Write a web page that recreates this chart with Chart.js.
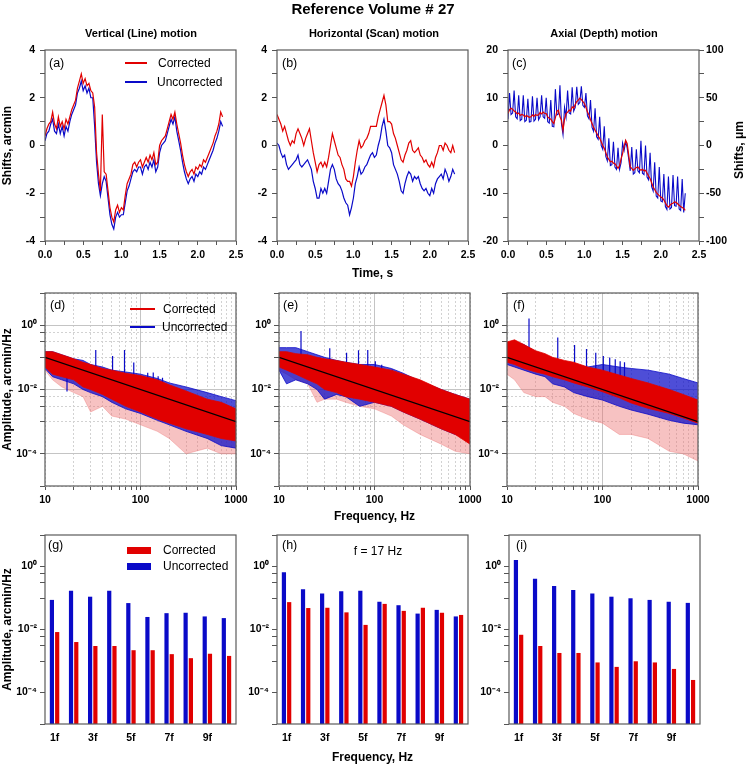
<!DOCTYPE html>
<html>
<head>
<meta charset="utf-8">
<title>Reference Volume # 27</title>
<script src="https://cdn.jsdelivr.net/npm/chart.js@4.4.1/dist/chart.umd.min.js"></script>
<style>
  html, body { margin: 0; padding: 0; background: #fff; }
  body { position: relative; width: 746px; height: 766px; overflow: hidden;
         font-family: "Liberation Sans", Arial, sans-serif; color: #000; }
  canvas { position: absolute; z-index: 1; }
  .txt { position: absolute; white-space: nowrap; line-height: 1; transform: translateY(-50%); z-index: 5; }
  .ctr { transform: translate(-50%, -50%); }
  .bold { font-weight: bold; }
  .sw { position: absolute; z-index: 5; }
</style>
</head>
<body>
<div class="txt ctr bold" style="left:373px;top:8px;font-size:15px">Reference Volume # 27</div>
<div class="txt ctr bold" style="left:141px;top:33px;font-size:11px">Vertical (Line) motion</div>
<div class="txt ctr bold" style="left:374px;top:33px;font-size:11px">Horizontal (Scan) motion</div>
<div class="txt ctr bold" style="left:604px;top:33px;font-size:11px">Axial (Depth) motion</div>
<div class="txt ctr bold" style="left:739px;top:150px;font-size:12px;transform:translate(-50%,-50%) rotate(-90deg)">Shifts, μm</div>

<div class="txt" style="left:49px;top:63px;font-size:12.5px">(a)</div>
<div class="txt" style="left:282px;top:63px;font-size:12.5px">(b)</div>
<div class="txt" style="left:512px;top:63px;font-size:12.5px">(c)</div>
<div class="txt" style="left:50px;top:305px;font-size:12.5px">(d)</div>
<div class="txt" style="left:283px;top:305px;font-size:12.5px">(e)</div>
<div class="txt" style="left:513px;top:305px;font-size:12.5px">(f)</div>
<div class="txt" style="left:48px;top:545px;font-size:12.5px">(g)</div>
<div class="txt" style="left:282px;top:545px;font-size:12.5px">(h)</div>
<div class="txt" style="left:516px;top:545px;font-size:12.5px">(i)</div>
<div class="txt ctr" style="left:378px;top:551px;font-size:12px">f = 17 Hz</div>

<div class="sw" style="left:125px;top:62px;width:22px;height:1.5px;background:rgb(225,0,0)"></div>
<div class="txt" style="left:158px;top:63px;font-size:12px">Corrected</div>
<div class="sw" style="left:125px;top:81px;width:22px;height:1.5px;background:rgb(10,10,200)"></div>
<div class="txt" style="left:157px;top:82px;font-size:12px">Uncorrected</div>

<div class="sw" style="left:130px;top:308px;width:25px;height:1.5px;background:rgb(225,0,0)"></div>
<div class="txt" style="left:163px;top:309px;font-size:12px">Corrected</div>
<div class="sw" style="left:130px;top:326px;width:25px;height:1.5px;background:rgb(10,10,200)"></div>
<div class="txt" style="left:162px;top:327px;font-size:12px">Uncorrected</div>

<div class="sw" style="left:127px;top:547px;width:24px;height:7px;background:rgb(225,0,0)"></div>
<div class="txt" style="left:163px;top:550px;font-size:12px">Corrected</div>
<div class="sw" style="left:127px;top:563px;width:24px;height:7px;background:rgb(10,10,200)"></div>
<div class="txt" style="left:163px;top:566px;font-size:12px">Uncorrected</div>

<script>
// ---- time series (shifts), arcmin ----
const timeStepAB = 0.025; // s, panels (a) and (b)
const timeStepC = 0.02;   // s, panel (c)

const vertCorr = [
  0.4, 0.7, 0.9, 1.0, 1.4, 0.9, 0.7, 1.2, 0.8, 1.0,
  0.7, 1.1, 0.9, 1.2, 1.5, 1.7, 1.9, 2.4, 2.7, 3.0,
  2.6, 2.8, 2.5, 2.6, 2.3, 2.2, 1.6, -0.3, -1.2, -1.9,
  1.3, -1.1, -1.2, -1.9, -2.6, -3.0, -3.2, -2.7, -2.5, -2.8,
  -2.6, -2.7, -2.1, -1.6, -1.4, -1.2, -0.8, -0.7, -0.9, -0.7,
  -0.6, -0.9, -0.7, -0.5, -0.7, -0.4, -0.6, -0.3, -0.8, -0.7,
  0.0, 0.2, 0.3, 0.4, 0.7, 1.0, 1.3, 1.1, 1.4, 0.9,
  0.5, 0.1, -0.4, -0.8, -1.1, -1.3, -1.1, -1.0, -1.2, -0.9,
  -1.0, -0.8, -0.9, -0.6, -0.7, -0.5, -0.3, -0.1, 0.1, 0.4,
  0.6, 0.9, 1.4, 1.2
];
const vertUncorr = [
  0.2, 0.5, 0.6, 0.9, 1.1, 0.6, 0.5, 0.9, 0.5, 0.8,
  0.4, 0.8, 0.6, 1.0, 1.3, 1.5, 1.7, 2.2, 2.4, 2.7,
  2.3, 2.5, 2.2, 2.4, 2.0, 2.0, 0.8, -0.7, -1.6, -2.1,
  -1.6, -1.3, -1.5, -2.2, -2.9, -3.3, -3.5, -3.0, -2.8, -3.0,
  -2.9, -2.9, -2.4, -1.9, -1.7, -1.4, -1.1, -1.0, -1.1, -0.9,
  -0.9, -1.2, -0.9, -0.8, -1.0, -0.7, -0.9, -0.6, -1.1, -0.9,
  -0.3, 0.0, 0.1, 0.2, 0.5, 0.8, 1.1, 0.9, 1.2, 0.6,
  0.2, -0.2, -0.7, -1.1, -1.4, -1.6, -1.4, -1.3, -1.5, -1.2,
  -1.3, -1.1, -1.2, -0.9, -1.0, -0.8, -0.6, -0.4, -0.2, 0.1,
  0.3, 0.6, 1.0, 0.8
];
const horizCorr = [
  1.3, 1.1, 0.9, 0.6, 0.8, 0.5, 0.2, 0.0, 0.2, 0.1,
  0.5, 0.7, 0.5, 0.3, 0.0, 0.3, 0.5, 0.7, 0.2, -0.3,
  -0.7, -1.1, -0.8, -0.7, -0.9, -0.7, -0.9, -0.5, 0.0, 0.5,
  0.2, -0.1, -0.4, -0.5, -0.8, -1.0, -1.4, -1.5, -1.5, -1.7,
  -1.3, -0.7, -0.2, 0.2, -0.1, 0.0, 0.2, 0.3, 0.5, 0.8,
  0.8, 0.8, 0.8, 1.2, 1.5, 1.8, 2.1, 1.7, 1.0, 1.0,
  0.9, 0.5, 0.3, 0.0, -0.3, -0.6, -0.7, -0.4, -0.2, 0.1,
  0.2, -0.2, -0.3, -0.2, -0.1, -0.4, -0.5, -0.7, -0.6, -0.8,
  -0.9, -0.7, -0.9, -0.5, -0.3, 0.0, 0.0, -0.2, 0.1, 0.0,
  -0.2, -0.3, 0.0, -0.3
];
const horizUncorr = [
  0.1, 0.0, -0.3, -0.5, -0.4, -0.8, -1.0, -0.9, -0.8, -0.7,
  -0.6, -0.4, -0.8, -0.9, -0.8, -0.7, -0.6, -0.8, -1.0, -1.5,
  -1.8, -2.2, -2.2, -1.8, -2.0, -1.8, -2.0, -1.5, -1.0, -0.8,
  -1.0, -1.4, -1.6, -1.7, -1.9, -2.2, -2.4, -2.5, -2.9, -2.6,
  -2.2, -1.6, -1.3, -0.9, -1.2, -1.1, -0.9, -0.8, -0.6, -0.4,
  -0.3, -0.5, -0.4, 0.0, 0.3, 0.8, 1.1, 0.6, 0.0, -0.1,
  -0.3, -0.8, -1.0, -1.2, -1.5, -1.9, -2.0, -1.6, -1.3, -1.1,
  -1.2, -1.5, -1.3, -1.4, -1.3, -1.6, -1.8, -1.9, -1.8, -2.0,
  -2.1, -1.8, -2.0, -1.6, -1.4, -1.3, -1.2, -1.4, -1.0, -1.2,
  -1.5, -1.3, -1.0, -1.2
];
const axialCorr = [
  6.7, 7.5, 7.8, 7.6, 7.2, 7.0, 6.6, 6.8, 6.3, 6.5,
  6.4, 6.0, 6.3, 6.1, 5.9, 6.0, 6.4, 6.1, 6.5, 6.3,
  6.4, 6.9, 6.6, 7.0, 6.7, 6.7, 6.0, 5.7, 5.5, 5.0,
  4.6, 5.8, 7.2, 7.4, 6.0, 5.3, 3.2, 5.5, 6.7, 7.0,
  7.4, 7.2, 8.1, 7.8, 8.6, 9.2, 9.5, 9.9, 9.6, 9.2,
  8.8, 8.0, 7.0, 6.4, 5.4, 4.6, 3.8, 3.2, 2.6, 2.0,
  1.5, 0.8, 0.0, -0.6, -1.5, -2.4, -2.9, -3.4, -3.3, -3.7,
  -3.8, -4.3, -4.8, -4.2, -2.8, -1.7, -0.2, 1.1, 0.4, -2.0,
  -4.5, -4.8, -5.2, -4.9, -4.6, -4.5, -4.9, -5.2, -5.0, -5.3,
  -5.2, -5.8, -6.4, -6.9, -7.8, -8.7, -9.2, -9.8, -10.2, -10.5,
  -10.8, -11.0, -11.4, -12.0, -12.6, -12.9, -12.5, -12.2, -12.1, -11.8,
  -11.9, -12.2, -12.5, -12.8, -13.0, -13.2, -13.6
];
const axialUncorr = [
  5.5, 11.0, 6.5, 6.8, 11.5, 6.0, 5.6, 10.5, 5.2, 5.5,
  10.5, 5.0, 5.3, 9.8, 4.9, 5.0, 10.3, 5.1, 5.5, 10.0,
  5.4, 6.0, 10.5, 6.0, 5.7, 10.0, 5.0, 4.7, 9.5, 4.0,
  3.9, 11.8, 6.4, 6.6, 12.6, 4.5, 2.3, 8.0, 6.0, 11.5,
  6.8, 6.6, 12.2, 7.2, 8.0, 12.3, 8.6, 9.0, 12.4, 8.4,
  8.0, 11.0, 6.2, 5.6, 9.5, 3.8, 3.0, 7.8, 1.8, 1.3,
  6.0, 0.0, -0.8, 4.0, -2.3, -3.2, 1.5, -4.2, -4.0, 0.8,
  -4.5, -5.0, -0.5, -5.0, -3.6, 0.5, -1.0, 0.8, -0.5, -2.8,
  -5.3, -0.3, -6.0, -5.7, -0.8, -5.3, -5.7, 1.0, -5.8, -6.1,
  0.0, -6.6, -7.2, -1.5, -8.6, -9.5, -3.5, -10.6, -11.0, -4.5,
  -11.6, -11.8, -6.0, -12.8, -13.4, -6.5, -13.3, -13.0, -6.2, -12.6,
  -12.7, -6.5, -13.3, -13.6, -7.0, -14.0, -10.0
];

// ---- amplitude spectra (envelopes), arcmin/Hz ----
const specFreq = [10, 12, 15, 20, 25, 30, 40, 50, 70, 100, 150, 200, 300, 500, 700, 1000];

const vertSpecUncHi = [0.15, 0.15, 0.12, 0.09, 0.08, 0.06, 0.05, 0.04, 0.035, 0.03, 0.022, 0.016, 0.012, 0.008, 0.006, 0.0045];
const vertSpecUncLo = [0.045, 0.025, 0.02, 0.015, 0.01, 0.008, 0.006, 0.004, 0.0025, 0.0018, 0.0011, 0.0008, 0.0005, 0.0003, 0.00018, 0.00015];
const vertSpecCorHi = [0.15, 0.15, 0.12, 0.09, 0.07, 0.06, 0.045, 0.04, 0.032, 0.027, 0.02, 0.014, 0.009, 0.005, 0.004, 0.0025];
const vertSpecCorLo = [0.05, 0.03, 0.025, 0.02, 0.012, 0.01, 0.007, 0.005, 0.003, 0.002, 0.0012, 0.0009, 0.0006, 0.0004, 0.0003, 0.00025];
const vertSpecCorDeep = [0.04, 0.02, 0.012, 0.008, 0.006, 0.002, 0.003, 0.0015, 0.0012, 0.0008, 0.0005, 0.0003, 0.0001, 0.00015, 0.0001, 0.0001];

const horizSpecUncHi = [0.2, 0.2, 0.2, 0.15, 0.12, 0.1, 0.08, 0.07, 0.06, 0.06, 0.045, 0.032, 0.018, 0.01, 0.007, 0.005];
const horizSpecUncLo = [0.04, 0.015, 0.02, 0.015, 0.01, 0.005, 0.007, 0.006, 0.003, 0.004, 0.003, 0.002, 0.0012, 0.0006, 0.0004, 0.0003];
const horizSpecCorHi = [0.15, 0.15, 0.13, 0.12, 0.1, 0.09, 0.08, 0.07, 0.06, 0.05, 0.04, 0.03, 0.02, 0.01, 0.007, 0.005];
const horizSpecCorLo = [0.05, 0.04, 0.03, 0.02, 0.015, 0.01, 0.008, 0.006, 0.005, 0.004, 0.003, 0.002, 0.0012, 0.0006, 0.0004, 0.0002];
const horizSpecCorDeep = [0.04, 0.03, 0.02, 0.015, 0.004, 0.005, 0.005, 0.004, 0.003, 0.0025, 0.0015, 0.0008, 0.0004, 0.0002, 0.00012, 0.0001];

const axialSpecUncHi = [0.25, 0.3, 0.25, 0.15, 0.12, 0.09, 0.07, 0.06, 0.05, 0.06, 0.05, 0.045, 0.04, 0.03, 0.022, 0.016];
const axialSpecUncLo = [0.06, 0.05, 0.04, 0.03, 0.025, 0.015, 0.012, 0.008, 0.006, 0.0047, 0.003, 0.0023, 0.0017, 0.0011, 0.0009, 0.0008];
const axialSpecCorHi = [0.3, 0.35, 0.25, 0.16, 0.13, 0.1, 0.08, 0.07, 0.05, 0.04, 0.028, 0.022, 0.016, 0.01, 0.007, 0.0047];
const axialSpecCorLo = [0.07, 0.06, 0.045, 0.035, 0.03, 0.025, 0.02, 0.016, 0.012, 0.0085, 0.0055, 0.0038, 0.0026, 0.0018, 0.0013, 0.0009];
const axialSpecCorDeep = [0.03, 0.02, 0.008, 0.006, 0.006, 0.004, 0.003, 0.0018, 0.0012, 0.0009, 0.0004, 0.0004, 0.0003, 0.00012, 0.0001, 0.00006];

// black power-law fit line
const fitFreq = [10, 1000];
const fitAmp = [0.1, 0.001];

// ---- harmonics of f = 17 Hz ----
const harmonicFreq = [17, 34, 51, 68, 85, 102, 119, 136, 153, 170];
const harmonicLabels = ['1f', '2f', '3f', '4f', '5f', '6f', '7f', '8f', '9f', '10f'];
const vertHarmUnc = [0.087, 0.17, 0.11, 0.17, 0.069, 0.025, 0.033, 0.034, 0.026, 0.023];
const vertHarmCorr = [0.0083, 0.004, 0.003, 0.003, 0.0022, 0.0022, 0.00165, 0.00123, 0.0017, 0.00145];
const horizHarmUnc = [0.66, 0.19, 0.14, 0.165, 0.17, 0.076, 0.059, 0.032, 0.042, 0.026];
const horizHarmCorr = [0.074, 0.048, 0.049, 0.035, 0.014, 0.065, 0.039, 0.049, 0.034, 0.029];
const axialHarmUnc = [1.6, 0.41, 0.24, 0.18, 0.14, 0.11, 0.098, 0.087, 0.076, 0.07];
const axialHarmCorr = [0.0068, 0.003, 0.0018, 0.0018, 0.0009, 0.00065, 0.00098, 0.0009, 0.00056, 0.00025];

// ---- axis ticks ----
const freqTicks = [10, 20, 30, 40, 50, 60, 70, 80, 90, 100, 200, 300, 400, 500, 600, 700, 800, 900, 1000];
const freqLabelled = [10, 100, 1000];
const ampTicks = [1e-5, 1e-4, 1e-3, 3e-3, 6e-3, 1e-2, 1e-1, 3e-1, 6e-1, 1, 10];
const ampLabels = { '0': '10⁰', '-2': '10⁻²', '-4': '10⁻⁴' };

// ---- styling ----
Chart.defaults.font.family = '"Liberation Sans", Arial, sans-serif';
Chart.defaults.color = '#000';
const RED = 'rgb(225,0,0)';
const BLUE = 'rgb(10,10,200)';
const BLUE_FILL = 'rgba(10,10,200,0.72)';
const PINK = 'rgba(235,110,110,0.42)';
const AXIS = '#555';
const FRAME = '#5a5a5a';
const TICK_FONT = { size: 10.5, weight: 'bold' };
const TITLE_FONT = { size: 12, weight: 'bold' };

const frameBox = {
  id: 'frameBox',
  afterDraw(chart) {
    const { ctx, chartArea: a } = chart;
    ctx.save();
    ctx.strokeStyle = FRAME;
    ctx.lineWidth = 1.2;
    ctx.strokeRect(a.left, a.top, a.right - a.left, a.bottom - a.top);
    ctx.restore();
  }
};

function placeCanvas(area, m) {
  const c = document.createElement('canvas');
  const w = area.w + m.l + m.r;
  const h = area.h + m.t + m.b;
  c.width = w;
  c.height = h;
  c.style.left = (area.x - m.l) + 'px';
  c.style.top = (area.y - m.t) + 'px';
  c.style.width = w + 'px';
  c.style.height = h + 'px';
  document.body.appendChild(c);
  return c;
}

function baseOptions(m, rightAxis) {
  return {
    responsive: false,
    animation: false,
    devicePixelRatio: 1,
    events: [],
    layout: { padding: { top: m.t, right: rightAxis ? 0 : m.r, bottom: 0, left: 0 } },
    plugins: { legend: { display: false }, tooltip: { enabled: false } }
  };
}

function axisTitle(text) {
  if (!text) return { display: false };
  return { display: true, text, font: TITLE_FONT, color: '#000', padding: { top: 0, bottom: 4 } };
}

function onStep(v, step) {
  return Math.abs(v / step - Math.round(v / step)) < 1e-6;
}

function timeAxis(title, h) {
  return {
    type: 'linear', min: 0, max: 2.5,
    ticks: { stepSize: 0.25, autoSkip: false, maxRotation: 0, padding: 4, font: TICK_FONT,
             callback: v => (onStep(v, 0.5) ? v.toFixed(1) : '') },
    grid: { drawOnChartArea: false, tickLength: 4, color: AXIS, tickColor: AXIS },
    border: { display: false },
    title: axisTitle(title),
    afterFit: s => { s.height = h; }
  };
}

function shiftAxis(min, max, step, labelStep, w, position, title) {
  return {
    type: 'linear', position, min, max,
    ticks: { stepSize: step, autoSkip: false, padding: position === 'right' ? 2 : 5, font: TICK_FONT,
             callback: v => (onStep(v, labelStep) ? String(v) : '') },
    grid: { drawOnChartArea: false, tickLength: 5, color: AXIS, tickColor: AXIS },
    border: { display: false },
    title: axisTitle(title),
    afterFit: s => { s.width = w; }
  };
}

function isDecade(v, list) {
  const e = Math.log10(v);
  return Math.abs(e - Math.round(e)) < 1e-6 && list.includes(Math.round(e));
}

function freqAxis(title, h) {
  return {
    type: 'logarithmic', min: 10, max: 1000,
    afterBuildTicks: s => { s.ticks = freqTicks.map(v => ({ value: v })); },
    ticks: { autoSkip: false, maxRotation: 0, padding: 4, font: TICK_FONT,
             callback: v => (freqLabelled.includes(v) ? String(v) : '') },
    grid: { drawOnChartArea: true, tickLength: 4, tickColor: AXIS, lineWidth: 1,
            color: c => (c.tick && c.tick.value === 100 ? '#c4c4c4' : '#d2d2d2') },
    border: { display: false, dash: c => (c.tick && c.tick.value === 100 ? [] : [2, 2]) },
    title: axisTitle(title),
    afterFit: s => { s.height = h; }
  };
}

function ampAxis(title, w, gridOn) {
  return {
    type: 'logarithmic', min: 1e-5, max: 10,
    afterBuildTicks: s => { s.ticks = ampTicks.map(v => ({ value: v })); },
    ticks: { autoSkip: false, padding: 3, font: TICK_FONT,
             callback: v => {
               const e = Math.round(Math.log10(v));
               return isDecade(v, [0, -2, -4]) ? ampLabels[String(e)] : '';
             } },
    grid: { drawOnChartArea: gridOn, tickLength: 5, tickColor: AXIS, lineWidth: 1,
            color: c => (c.tick && isDecade(c.tick.value, [0, -2, -4]) ? '#c4c4c4' : '#d2d2d2') },
    border: { display: false,
              dash: c => (c.tick && isDecade(c.tick.value, [0, -2, -4]) ? [] : [2, 2]) },
    title: axisTitle(title),
    afterFit: s => { s.width = w; }
  };
}

function harmonicAxis(title, h) {
  return {
    type: 'category', offset: true,
    ticks: { autoSkip: false, maxRotation: 0, padding: 8, font: TICK_FONT,
             callback: (v, i) => (i % 2 === 0 ? harmonicLabels[i] : '') },
    grid: { display: true, drawOnChartArea: false, drawTicks: false },
    border: { display: false },
    title: axisTitle(title),
    afterFit: s => { s.height = h; }
  };
}

// ---- dataset builders ----
function pts(xs, ys) {
  return xs.map((x, i) => ({ x, y: ys[i] }));
}
function timePts(step, ys) {
  return ys.map((y, i) => ({ x: +(i * step).toFixed(3), y }));
}
function spikePts(freqs, peaks) {
  const out = [];
  freqs.forEach((f, i) => {
    out.push({ x: f, y: peaks[i] / 10 }, { x: f, y: peaks[i] }, { x: f, y: null });
  });
  return out;
}
function lineSet(label, data, color, width, extra) {
  return Object.assign({
    label, data, borderColor: color, backgroundColor: color, borderWidth: width,
    pointRadius: 0, tension: 0, fill: false
  }, extra || {});
}

const areas = {
  a: { x: 45, y: 50, w: 191, h: 191 },
  b: { x: 277, y: 50, w: 191, h: 191 },
  c: { x: 508, y: 50, w: 191, h: 191 },
  d: { x: 45, y: 293, w: 191, h: 193 },
  e: { x: 279, y: 293, w: 191, h: 193 },
  f: { x: 507, y: 293, w: 191, h: 193 },
  g: { x: 45, y: 535, w: 191, h: 189 },
  h: { x: 277, y: 535, w: 191, h: 189 },
  i: { x: 509, y: 535, w: 191, h: 189 }
};

function timePanel(key, m, corr, unc, step, yTitle, xTitle) {
  const canvas = placeCanvas(areas[key], m);
  return new Chart(canvas, {
    type: 'line',
    data: {
      datasets: [
        lineSet('Corrected', timePts(step, corr), RED, 1.2),
        lineSet('Uncorrected', timePts(step, unc), BLUE, 1.2)
      ]
    },
    options: Object.assign(baseOptions(m, false), {
      scales: {
        x: timeAxis(xTitle, m.b),
        y: shiftAxis(-4, 4, 1, 2, m.l, 'left', yTitle)
      }
    }),
    plugins: [frameBox]
  });
}

function spectrumPanel(key, m, s, yTitle, xTitle) {
  const canvas = placeCanvas(areas[key], m);
  return new Chart(canvas, {
    type: 'line',
    data: {
      datasets: [
        lineSet('Fit', pts(fitFreq, fitAmp), '#000', 1.3, { order: 0 }),
        lineSet('Corrected', pts(specFreq, s.corHi), RED, 0.8, { order: 1, fill: '+1' }),
        lineSet('Corrected low', pts(specFreq, s.corLo), RED, 0.8, { order: 1 }),
        lineSet('Uncorrected peaks', spikePts(harmonicFreq, s.harm), BLUE, 1.2, { order: 2, spanGaps: false }),
        lineSet('Uncorrected', pts(specFreq, s.uncHi), BLUE, 0.8, { order: 3, fill: '+1', backgroundColor: BLUE_FILL }),
        lineSet('Uncorrected low', pts(specFreq, s.uncLo), BLUE, 0.8, { order: 3 }),
        lineSet('Corrected deep', pts(specFreq, s.corDeep), 'rgba(235,110,110,0.6)', 0.6, { order: 4, fill: 2, backgroundColor: PINK })
      ]
    },
    options: Object.assign(baseOptions(m, false), {
      scales: {
        x: freqAxis(xTitle, m.b),
        y: ampAxis(yTitle, m.l, true)
      }
    }),
    plugins: [frameBox]
  });
}

function harmonicPanel(key, m, unc, corr, yTitle, xTitle) {
  const canvas = placeCanvas(areas[key], m);
  return new Chart(canvas, {
    type: 'bar',
    data: {
      labels: harmonicLabels,
      datasets: [
        { label: 'Uncorrected', data: unc, backgroundColor: BLUE, borderWidth: 0,
          barPercentage: 0.8, categoryPercentage: 0.55 },
        { label: 'Corrected', data: corr, backgroundColor: RED, borderWidth: 0,
          barPercentage: 0.8, categoryPercentage: 0.55 }
      ]
    },
    options: Object.assign(baseOptions(m, false), {
      scales: {
        x: harmonicAxis(xTitle, m.b),
        y: ampAxis(yTitle, m.l, false)
      }
    }),
    plugins: [frameBox]
  });
}

// ---- row 1: shifts vs time ----
timePanel('a', { l: 45, r: 20, t: 12, b: 44 }, vertCorr, vertUncorr, timeStepAB, 'Shifts, arcmin', '');
timePanel('b', { l: 34, r: 20, t: 12, b: 44 }, horizCorr, horizUncorr, timeStepAB, '', 'Time, s');

(function () {
  const m = { l: 34, r: 47, t: 12, b: 44 };
  const canvas = placeCanvas(areas.c, m);
  new Chart(canvas, {
    type: 'line',
    data: {
      datasets: [
        lineSet('Corrected', timePts(timeStepC, axialCorr), RED, 1.2, { yAxisID: 'y' }),
        lineSet('Uncorrected', timePts(timeStepC, axialUncorr), BLUE, 1.1, { yAxisID: 'y' })
      ]
    },
    options: Object.assign(baseOptions(m, true), {
      scales: {
        x: timeAxis('', m.b),
        y: shiftAxis(-20, 20, 5, 10, m.l, 'left', ''),
        y2: shiftAxis(-100, 100, 25, 50, m.r, 'right', '')
      }
    }),
    plugins: [frameBox]
  });
})();

// ---- row 2: amplitude spectra ----
spectrumPanel('d', { l: 45, r: 22, t: 12, b: 42 }, {
  uncHi: vertSpecUncHi, uncLo: vertSpecUncLo, corHi: vertSpecCorHi, corLo: vertSpecCorLo,
  corDeep: vertSpecCorDeep, harm: vertHarmUnc
}, 'Amplitude, arcmin/Hz', '');
spectrumPanel('e', { l: 40, r: 22, t: 12, b: 42 }, {
  uncHi: horizSpecUncHi, uncLo: horizSpecUncLo, corHi: horizSpecCorHi, corLo: horizSpecCorLo,
  corDeep: horizSpecCorDeep, harm: horizHarmUnc
}, '', 'Frequency, Hz');
spectrumPanel('f', { l: 40, r: 24, t: 12, b: 42 }, {
  uncHi: axialSpecUncHi, uncLo: axialSpecUncLo, corHi: axialSpecCorHi, corLo: axialSpecCorLo,
  corDeep: axialSpecCorDeep, harm: axialHarmUnc
}, '', '');

// ---- row 3: amplitude at the harmonics ----
harmonicPanel('g', { l: 45, r: 20, t: 12, b: 45 }, vertHarmUnc, vertHarmCorr, 'Amplitude, arcmin/Hz', '');
harmonicPanel('h', { l: 40, r: 20, t: 12, b: 45 }, horizHarmUnc, horizHarmCorr, '', 'Frequency, Hz');
harmonicPanel('i', { l: 40, r: 20, t: 12, b: 45 }, axialHarmUnc, axialHarmCorr, '', '');
</script>
</body>
</html>
